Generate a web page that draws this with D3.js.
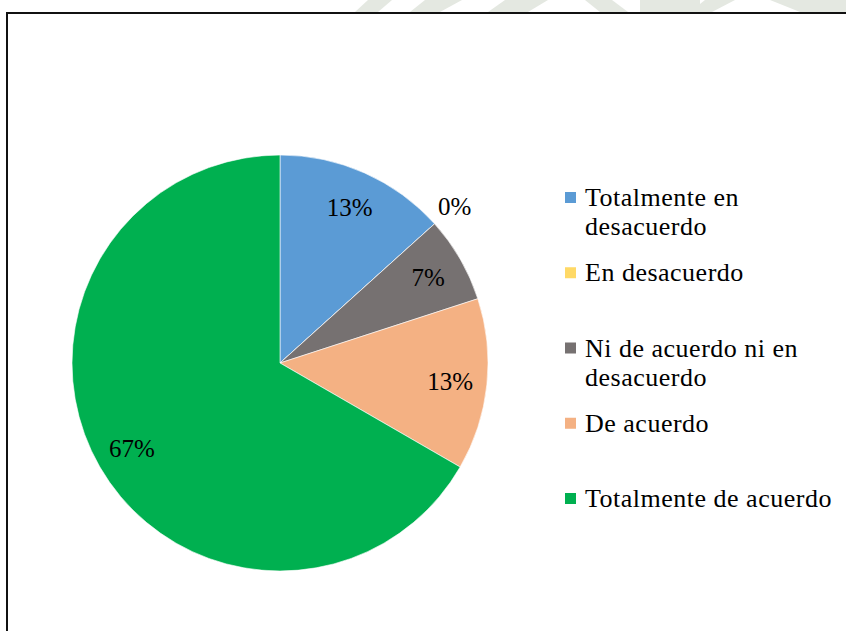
<!DOCTYPE html>
<html>
<head>
<meta charset="utf-8">
<script src="https://cdn.jsdelivr.net/npm/d3@7"></script>
</head>
<body style="margin:0">
<script>
// data
var categories = ['Totalmente en\ndesacuerdo', 'En desacuerdo', 'Ni de acuerdo ni en\ndesacuerdo',
        'De acuerdo', 'Totalmente de acuerdo']
var counts = [2, 0, 1, 2, 10]
var colors = ['#5B9BD5', '#FFD966', '#767171', '#F4B183', '#00B050']

var W = 846, H = 631

var svg = d3.select('body').append('svg')
    .attr('width', W)
    .attr('height', H)
    .style('display', 'block')
    .attr('font-family', 'Liberation Serif')

// faint watermark peeking above the frame
var wm = svg.append('g').attr('fill', '#e4e8e1')
var wmShapes = [
    [[368,0],[392,0],[378,12],[355,12]],
    [[425,0],[462,0],[440,12],[410,12]],
    [[505,0],[548,0],[528,12],[488,12]],
    [[585,0],[612,0],[628,12],[600,12]],
    [[640,0],[700,0],[700,12],[640,12]],
    [[705,0],[735,0],[712,12],[690,12]],
    [[770,0],[846,0],[846,12],[800,12]]
]
wm.selectAll('polygon').data(wmShapes).enter().append('polygon')
    .attr('points', function(d){ return d.map(function(p){ return p.join(',') }).join(' ') })

// frame
svg.append('rect')
    .attr('x', 7).attr('y', 13)
    .attr('width', 900).attr('height', 700)
    .attr('fill', '#fff')
    .attr('stroke', '#111')
    .attr('stroke-width', 2)

var cx = 280, cy = 363, R = 208

var pie = d3.pie().sort(null).value(function(d){ return d })
var arcs = pie(counts)
var total = d3.sum(counts)

var arc = d3.arc().innerRadius(0).outerRadius(R)
var labelArc = d3.arc().innerRadius(171).outerRadius(171)
var zeroArc = d3.arc().innerRadius(235).outerRadius(235)

var g = svg.append('g').attr('transform', 'translate(' + cx + ',' + cy + ')')

g.selectAll('path').data(arcs).enter().append('path')
    .attr('d', arc)
    .attr('fill', function(d, i){ return colors[i] })
    .attr('stroke', '#fff')
    .attr('stroke-width', 0.6)

g.selectAll('text.lbl').data(arcs).enter().append('text')
    .attr('class', 'lbl')
    .attr('x', function(d){ return (d.value === 0 ? zeroArc : labelArc).centroid(d)[0] })
    .attr('y', function(d){ return (d.value === 0 ? zeroArc : labelArc).centroid(d)[1] })
    .attr('text-anchor', 'middle')
    .attr('dy', '0.35em')
    .style('font-family', function(){ return "'Liberation Serif'" })
    .style('font-size', '25px')
    .attr('fill', '#000')
    .text(function(d){ return Math.round(d.value / total * 100) + '%' })

// legend
var yLeg = d3.scalePoint().domain(categories).range([206, 507])

var leg = svg.append('g').attr('class', 'legend')
var items = leg.selectAll('g').data(categories).enter().append('g')
    .attr('transform', function(d){ return 'translate(0,' + yLeg(d) + ')' })

items.append('rect')
    .attr('x', 565).attr('y', -14)
    .attr('width', 11).attr('height', 11)
    .attr('fill', function(d, i){ return colors[i] })

items.append('text')
    .attr('x', 585)
    .style('font-family', function(){ return "'Liberation Serif'" })
    .style('font-size', '26px')
    .style('letter-spacing', '0.5px')
    .attr('fill', '#000')
    .each(function(d){
        var t = d3.select(this)
        d.split('\n').forEach(function(line, k){
            t.append('tspan').attr('x', 585).attr('y', k * 29).text(line)
        })
    })
</script>
</body>
</html>
